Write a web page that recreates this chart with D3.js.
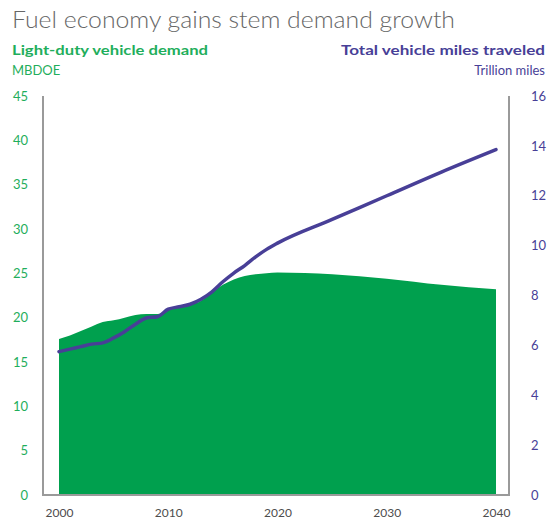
<!DOCTYPE html>
<html><head><meta charset="utf-8">
<script src="https://cdn.jsdelivr.net/npm/d3@7"></script>
<style>body{margin:0;background:#fff}svg{display:block}</style>
</head><body>
<svg id="c" width="548" height="523"></svg>
<script>
const years = [2000,2001,2002,2003,2004,2005,2006,2007,2008,2009,2010,2011,2012,2013,2014,2015,2016,2017,2018,2019,2020,2025,2030,2035,2040];
const demand = [17.6,18.0,18.5,19.0,19.5,19.7,20.0,20.3,20.4,20.4,20.9,21.2,21.4,21.9,22.8,23.7,24.3,24.7,24.9,25.0,25.1,24.9,24.4,23.7,23.2];
const miles = [5.75,5.85,5.95,6.05,6.1,6.3,6.55,6.85,7.1,7.15,7.45,7.55,7.65,7.85,8.15,8.55,8.9,9.2,9.55,9.85,10.1,11.05,12.0,12.95,13.85];
const leftTicks = [0,5,10,15,20,25,30,35,40,45];
const rightTicks = [0,2,4,6,8,10,12,14,16];
const xTicks = [2000,2010,2020,2030,2040];

const svg = d3.select("#c");
const x = d3.scaleLinear().domain([2000,2040]).range([59,496]);
const yL = d3.scaleLinear().domain([0,45]).range([495,96]);
const yR = d3.scaleLinear().domain([0,16]).range([495,96]);
const green = "#00a04e", purple = "#483f97";

svg.append("text").attr("x",12).attr("y",28).text("Fuel economy gains stem demand growth")
  .attr("font-family","Lato, 'Open Sans', sans-serif").attr("font-weight",300).attr("font-size",24)
  .attr("fill","#666666").attr("textLength",443).attr("lengthAdjust","spacingAndGlyphs");
svg.append("text").attr("x",12).attr("y",55).text("Light-duty vehicle demand")
  .attr("font-family","Lato, sans-serif").attr("font-weight",700).attr("font-size",13).attr("fill","#1fae5c")
  .attr("textLength",196).attr("lengthAdjust","spacingAndGlyphs");
svg.append("text").attr("x",12).attr("y",75).text("MBDOE")
  .attr("font-family","Lato, sans-serif").attr("font-size",13).attr("fill","#1fae5c");
svg.append("text").attr("x",545).attr("y",55).attr("text-anchor","end").text("Total vehicle miles traveled")
  .attr("font-family","Lato, sans-serif").attr("font-weight",700).attr("font-size",13).attr("fill",purple)
  .attr("textLength",204).attr("lengthAdjust","spacingAndGlyphs");
svg.append("text").attr("x",545).attr("y",75).attr("text-anchor","end").text("Trillion miles")
  .attr("font-family","Lato, sans-serif").attr("font-size",13).attr("fill",purple);

const pts = years.map((yr,i)=>({yr, d:demand[i], m:miles[i]}));
svg.append("path").datum(pts)
  .attr("d", d3.area().curve(d3.curveMonotoneX).x(p=>x(p.yr)).y0(yL(0)).y1(p=>yL(p.d)))
  .attr("fill", green);
svg.append("path").datum(pts)
  .attr("d", d3.line().curve(d3.curveMonotoneX).x(p=>x(p.yr)).y(p=>yR(p.m)))
  .attr("fill","none").attr("stroke",purple).attr("stroke-width",3.5).attr("stroke-linecap","round");

// axes lines
svg.append("line").attr("x1",43).attr("x2",43).attr("y1",96).attr("y2",495).attr("stroke","#9a9a9a").attr("stroke-width",2);
svg.append("line").attr("x1",509).attr("x2",509).attr("y1",96).attr("y2",495).attr("stroke","#9a9a9a").attr("stroke-width",2);
svg.append("line").attr("x1",42).attr("x2",510).attr("y1",495).attr("y2",495).attr("stroke","#9a9a9a").attr("stroke-width",2);

const ff = "Lato, sans-serif";
const la = svg.append("g").attr("transform","translate(28,0)")
  .call(d3.axisLeft(yL).tickValues(leftTicks).tickSize(0).tickPadding(0));
la.select(".domain").remove();
la.selectAll("text").attr("fill","#1fae5c").attr("font-family",ff).attr("font-size",13);
const ra = svg.append("g").attr("transform","translate(531,0)")
  .call(d3.axisRight(yR).tickValues(rightTicks).tickSize(0).tickPadding(0));
ra.select(".domain").remove();
ra.selectAll("text").attr("fill",purple).attr("font-family",ff).attr("font-size",13);
const xa = svg.append("g").attr("transform","translate(0,504)")
  .call(d3.axisBottom(x).tickValues(xTicks).tickFormat(d3.format("d")).tickSize(0).tickPadding(4));
xa.select(".domain").remove();
xa.selectAll("text").attr("fill","#4d4d4d").attr("font-family",ff).attr("font-size",12);
</script>
</body></html>
